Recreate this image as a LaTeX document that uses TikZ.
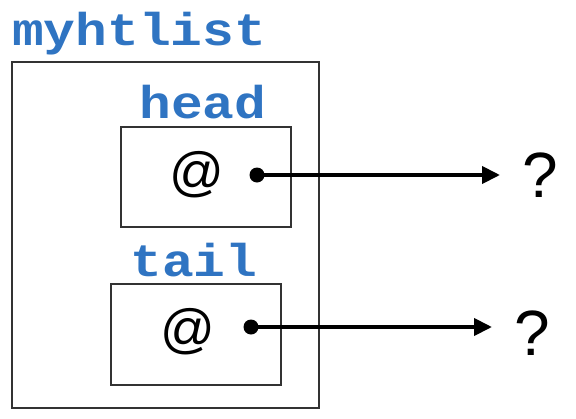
\documentclass[tikz,border=0pt]{standalone}
\usepackage{fontspec}
\setmainfont{Liberation Sans}
\newfontfamily\codefont[FakeStretch=1.15]{Liberation Mono}
\usepackage{xcolor}
\usetikzlibrary{arrows.meta,positioning}
\definecolor{fieldblue}{HTML}{2F74C2}

\begin{document}
\begin{tikzpicture}[
    x=1pt,y=-1pt,>={Triangle[length=18pt,width=17pt]},
    box/.style={draw=black!80,line width=1.4pt,inner sep=0pt},
    fieldname/.style={text=fieldblue,font=\codefont\bfseries\fontsize{46}{54}\selectfont,inner sep=0pt,anchor=base},
    atsign/.style={font=\fontsize{54}{60}\selectfont,inner sep=0pt,anchor=base},
    unknown/.style={font=\fontsize{64}{70}\selectfont,inner sep=0pt,anchor=base},
    dot/.style={circle,fill=black,inner sep=0pt,minimum size=15pt},
    pointer/.style={->,line width=4pt,shorten >=22pt}
  ]
  \useasboundingbox (0,0) rectangle (576,418);
  % outer record
  \node[box,minimum width=307pt,minimum height=346pt] (list) at (165.5,235) {};
  \node[fieldname,anchor=base west] (name) at (12,45) {myhtlist};
  % head field
  \node[fieldname] (headlbl) at (203,118) {head};
  \node[box,minimum width=170pt,minimum height=100pt] (head) at (206,177) {};
  \node[atsign] (headat) at (197,190) {@};
  \node[dot] (headdot) at (257,175) {};
  \node[unknown] (headq) at (540,197) {?};
  % tail field
  \node[fieldname] (taillbl) at (194,276) {tail};
  \node[box,minimum width=170pt,minimum height=101pt] (tail) at (196,334.5) {};
  \node[atsign] (tailat) at (188,347) {@};
  \node[dot] (taildot) at (251,327) {};
  \node[unknown] (tailq) at (532,355) {?};
  % pointers
  \draw[pointer] (headdot.center) -- (headdot.center -| headq.west);
  \draw[pointer] (taildot.center) -- (taildot.center -| tailq.west);
\end{tikzpicture}
\end{document}
